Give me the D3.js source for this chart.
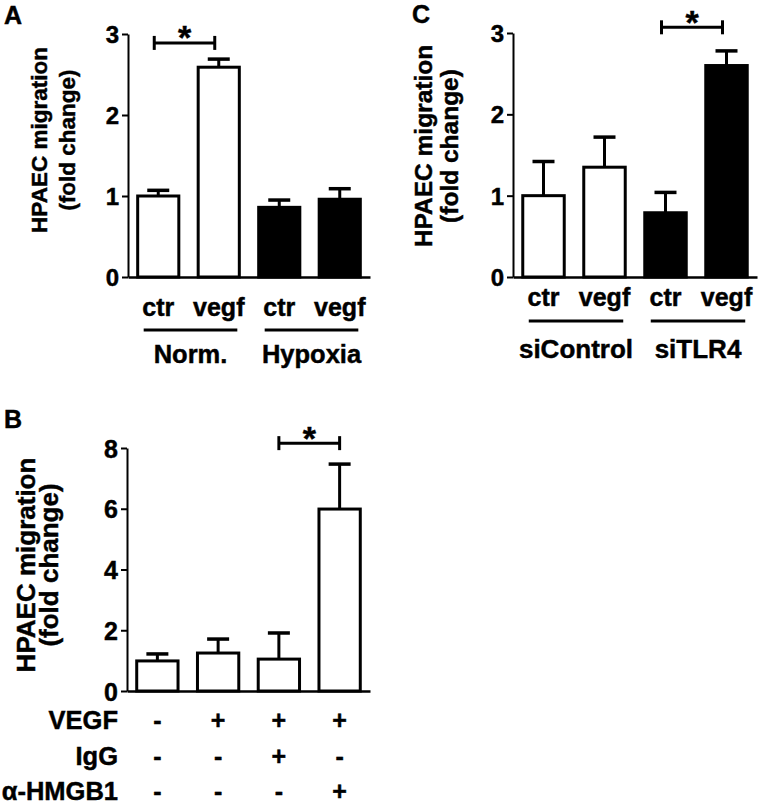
<!DOCTYPE html>
<html>
<head>
<meta charset="utf-8">
<script src="https://cdn.jsdelivr.net/npm/d3@7"></script>
<style>
    body { margin: 0; background: #fff; }
    svg text { font-family: "Liberation Sans", Arial, sans-serif; font-weight: bold; fill: #000; stroke: #000; stroke-width: 0.45px; }
</style>
</head>
<body>
<script>

// panel A - normoxia / hypoxia
let categoriesA = ["ctr", "vegf", "ctr", "vegf"];
let meansA = [1.00, 2.59, 0.86, 0.96];
let errorsA = [0.07, 0.10, 0.09, 0.13];
let filledA = [false, false, true, true];
let groupLabelsA = ["Norm.", "Hypoxia"];
let groupMembersA = [[0, 1], [2, 3]];
let ticksA = [0, 1, 2, 3];
let sigA = [0, 1, 2.89];   // bar i, bar j, bracket level

// panel C - siRNA
let categoriesC = ["ctr", "vegf", "ctr", "vegf"];
let meansC = [1.00, 1.35, 0.79, 2.60];
let errorsC = [0.42, 0.37, 0.25, 0.18];
let filledC = [false, false, true, true];
let groupLabelsC = ["siControl", "siTLR4"];
let groupMembersC = [[0, 1], [2, 3]];
let ticksC = [0, 1, 2, 3];
let sigC = [2, 3, 3.07];

// panel B - antibody treatment
let categoriesB = ["b1", "b2", "b3", "b4"];
let meansB = [0.99, 1.25, 1.05, 5.99];
let errorsB = [0.23, 0.46, 0.86, 1.48];
let filledB = [false, false, false, false];
let ticksB = [0, 2, 4, 6, 8];
let sigB = [2, 3, 8.16];
let rowLabelsB = ["VEGF", "IgG", "\u03B1-HMGB1"];
let rowSignsB = [
    ["-", "+", "+", "+"],
    ["-", "-", "+", "-"],
    ["-", "-", "-", "+"]
];

let width = 760;
let height = 809;

let svg = d3.select("body")
    .append("svg")
    .attr("width", width)
    .attr("height", height)

function drawPanel(p) {
    let g = svg.append("g")

    let x = d3.scaleBand()
        .domain(p.categories.map((d, i) => i))
        .range([p.left, p.right])
        .paddingInner(0.32)
        .paddingOuter(0.16)

    let y = d3.scaleLinear()
        .domain([0, p.ticks[p.ticks.length - 1]])
        .range([p.bottom, p.top])

    let bw = x.bandwidth();
    let cx = (i) => x(i) + bw / 2;

    // bars
    g.selectAll("rect.bar")
        .data(p.means)
        .enter()
        .append("rect")
        .attr("class", "bar")
        .attr("x", (d, i) => x(i))
        .attr("y", (d) => y(d))
        .attr("width", bw)
        .attr("height", (d) => y(0) - y(d))
        .style("fill", (d, i) => p.filled[i] ? "#000" : "#fff")
        .style("stroke", "#000")
        .style("stroke-width", 3)

    // error bars (upper only)
    g.selectAll("line.err")
        .data(p.means)
        .enter()
        .append("line")
        .attr("x1", (d, i) => cx(i))
        .attr("x2", (d, i) => cx(i))
        .attr("y1", (d) => y(d))
        .attr("y2", (d, i) => y(d + p.errors[i]))
        .style("stroke", "#000")
        .style("stroke-width", 3)

    g.selectAll("line.cap")
        .data(p.means)
        .enter()
        .append("line")
        .attr("x1", (d, i) => cx(i) - 11)
        .attr("x2", (d, i) => cx(i) + 11)
        .attr("y1", (d, i) => y(d + p.errors[i]))
        .attr("y2", (d, i) => y(d + p.errors[i]))
        .style("stroke", "#000")
        .style("stroke-width", 3.5)

    // y axis
    let yAxis = d3.axisLeft(y)
        .tickValues(p.ticks)
        .tickFormat(d3.format("d"))
        .tickSizeInner(6)
        .tickSizeOuter(0)
        .tickPadding(3)
    let ya = g.append("g")
        .attr("transform", "translate(" + p.left + ",0)")
        .call(yAxis)
    ya.selectAll("path, line").style("stroke", "#000").style("stroke-width", 2)
    ya.selectAll("text")
        .style("font-size", p.tickFont + "px")
        .style("font-family", '"Liberation Sans", Arial, sans-serif')
        .style("font-weight", "bold")
        .attr("dy", "0.36em")

    // x axis (baseline + category labels)
    let xAxis = d3.axisBottom(x)
        .tickSize(0)
        .tickPadding(p.labelPad)
        .tickFormat((d) => p.xlabels ? p.categories[d] : "")
    let xa = g.append("g")
        .attr("transform", "translate(0," + p.bottom + ")")
        .call(xAxis)
    xa.select("path").style("stroke", "#000").style("stroke-width", 2.5)
    xa.selectAll("text")
        .style("font-size", "25px")
        .style("font-family", '"Liberation Sans", Arial, sans-serif')
        .style("font-weight", "bold")

    // significance bracket
    let s = p.sig;
    let by = y(s[2]);
    let bx1 = cx(s[0]) - p.sigShift;
    let bx2 = cx(s[1]) - p.sigShift;
    g.append("line")
        .attr("x1", bx1).attr("x2", bx2)
        .attr("y1", by).attr("y2", by)
        .style("stroke", "#000").style("stroke-width", 3)
    g.selectAll("line.bend")
        .data([bx1, bx2])
        .enter()
        .append("line")
        .attr("x1", (d) => d).attr("x2", (d) => d)
        .attr("y1", by - 7).attr("y2", by + 7)
        .style("stroke", "#000").style("stroke-width", 3)
    g.append("text")
        .attr("x", (bx1 + bx2) / 2)
        .attr("y", by - 13 + 0.575 * 34)
        .attr("text-anchor", "middle")
        .style("font-size", "34px")
        .text("*")

    // group underlines + labels
    if (p.groupLabels) {
        p.groupMembers.forEach((m, k) => {
            let gx1 = x(m[0]) + 6;
            let gx2 = x(m[m.length - 1]) + bw - 2;
            g.append("line")
                .attr("x1", gx1).attr("x2", gx2)
                .attr("y1", p.groupLineY).attr("y2", p.groupLineY)
                .style("stroke", "#000").style("stroke-width", 3)
            g.append("text")
                .attr("x", (gx1 + gx2) / 2)
                .attr("y", p.groupTextY)
                .attr("text-anchor", "middle")
                .style("font-size", p.groupFont + "px")
                .text(p.groupLabels[k])
        })
    }

    // y axis label, two lines
    g.append("text")
        .attr("transform", "translate(" + p.ylabX[0] + "," + p.ylabY + ") rotate(-90)")
        .attr("text-anchor", "middle")
        .style("font-size", p.ylabFont + "px")
        .text("HPAEC migration")
    g.append("text")
        .attr("transform", "translate(" + p.ylabX[1] + "," + p.ylabY + ") rotate(-90)")
        .attr("text-anchor", "middle")
        .style("font-size", p.ylabFont + "px")
        .text("(fold change)")

    // panel letter
    g.append("text")
        .attr("x", p.letterX)
        .attr("y", p.letterY)
        .style("font-size", "25px")
        .text(p.letter)

    return { x: x, y: y, cx: cx };
}

// create panel A
drawPanel({
    categories: categoriesA, means: meansA, errors: errorsA, filled: filledA,
    ticks: ticksA, sig: sigA, sigShift: 4, xlabels: true,
    groupLabels: groupLabelsA, groupMembers: groupMembersA,
    left: 128, right: 370, top: 34, bottom: 277,
    tickFont: 24, labelPad: 21, groupLineY: 330, groupTextY: 363, groupFont: 25.5,
    ylabX: [47, 75], ylabY: 140, ylabFont: 22.5,
    letter: "A", letterX: 4, letterY: 24
})

// create panel C
drawPanel({
    categories: categoriesC, means: meansC, errors: errorsC, filled: filledC,
    ticks: ticksC, sig: sigC, sigShift: 4, xlabels: true,
    groupLabels: groupLabelsC, groupMembers: groupMembersC,
    left: 513, right: 757, top: 33, bottom: 277,
    tickFont: 24, labelPad: 11, groupLineY: 321, groupTextY: 358, groupFont: 26,
    ylabX: [432, 458], ylabY: 146, ylabFont: 24.5,
    letter: "C", letterX: 412, letterY: 23
})

// create panel B
let pb = drawPanel({
    categories: categoriesB, means: meansB, errors: errorsB, filled: filledB,
    ticks: ticksB, sig: sigB, sigShift: 0, xlabels: false,
    left: 127, right: 370, top: 448, bottom: 691,
    tickFont: 25,
    ylabX: [35, 58], ylabY: 565, ylabFont: 26,
    letter: "B", letterX: 4, letterY: 428
})

// treatment table under panel B
let rowY = [729, 765, 800];
rowLabelsB.forEach((lab, r) => {
    svg.append("text")
        .attr("x", 118)
        .attr("y", rowY[r])
        .attr("text-anchor", "end")
        .style("font-size", "25.5px")
        .text(lab)
    svg.selectAll("text.sign" + r)
        .data(rowSignsB[r])
        .enter()
        .append("text")
        .attr("class", "sign" + r)
        .attr("x", (d, i) => pb.cx(i))
        .attr("y", rowY[r])
        .attr("text-anchor", "middle")
        .style("font-size", "25px")
        .text((d) => d)
})

</script>
</body>
</html>
